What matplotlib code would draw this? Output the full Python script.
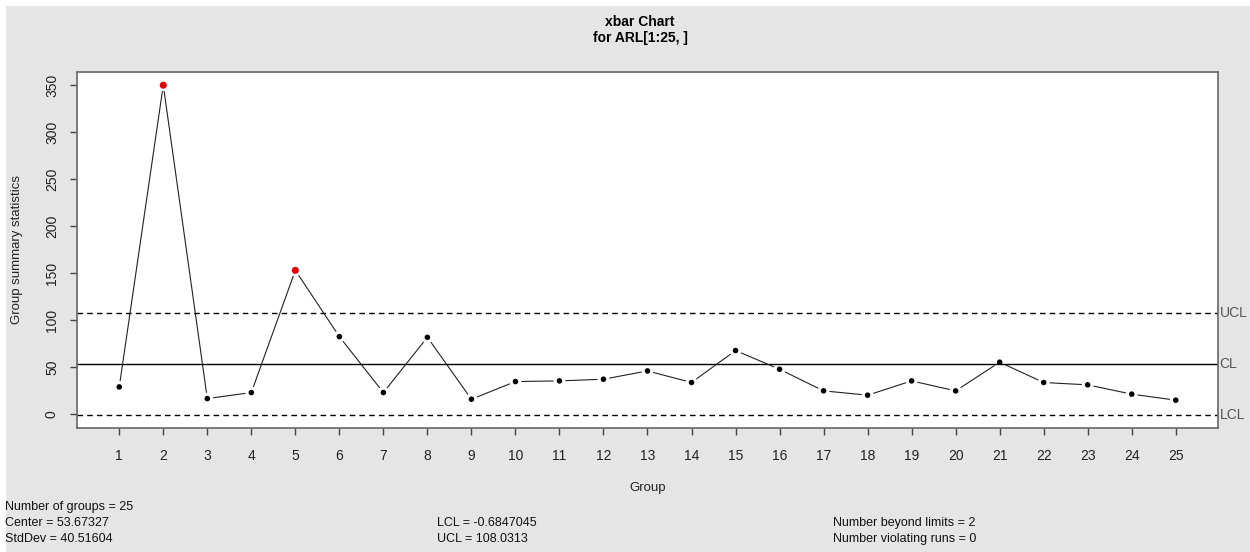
import numpy as np
import matplotlib
matplotlib.use('Agg')
import matplotlib.pyplot as plt
from matplotlib.patches import Rectangle

# group means for ARL[1:25, ]
groups = list(range(1, 26))
stats = [29.0, 350.0, 16.6, 23.0, 153.0, 82.5, 23.0, 81.8, 15.9, 34.7,
         35.4, 37.2, 46.0, 33.7, 67.7, 47.8, 24.8, 20.2, 35.4, 24.8,
         55.3, 33.7, 31.2, 21.3, 14.9]
center = 53.67327
lcl = -0.6847045
ucl = 108.0313
std_dev = 40.51604
beyond = [2, 5]  # groups outside the limits
violating_runs = 0

W, H = 1250, 552
plt.rcParams['font.family'] = ['Liberation Sans', 'DejaVu Sans']

fig = plt.figure(figsize=(W / 100.0, H / 100.0), dpi=100, facecolor='white')
# grey margin (thin white strip on top and left)
fig.patches.append(Rectangle((6.0 / W, 0), 1, 1 - 6.0 / H, transform=fig.transFigure,
                             facecolor='#e5e5e5', edgecolor='none', zorder=-10))

ax = fig.add_axes([77.0 / W, 1 - 428.0 / H, (1218.0 - 77) / W, (428.0 - 72) / H])
ax.set_facecolor('white')

# limits like R's default 4% extension
ymin = min(min(stats), lcl)
ymax = max(max(stats), ucl)
yr = ymax - ymin
ax.set_xlim(1 - 0.04 * 24, 25 + 0.04 * 24)
ax.set_ylim(ymin - 0.04 * yr, ymax + 0.04 * yr)

ax.axhline(center, color='black', lw=1.0)
ax.axhline(ucl, color='black', lw=1.0, ls=(0, (4, 3)))
ax.axhline(lcl, color='black', lw=1.0, ls=(0, (4, 3)))

# type "b" style: segments with gaps around the points
for i in range(len(groups) - 1):
    ax.annotate('', xy=(groups[i + 1], stats[i + 1]), xytext=(groups[i], stats[i]),
                arrowprops=dict(arrowstyle='-', color='#222222', lw=0.8,
                                shrinkA=4.5, shrinkB=4.5))

cols = ['#e00000' if g in beyond else 'black' for g in groups]
sizes = [26 if g in beyond else 16 for g in groups]
ax.scatter(groups, stats, c=cols, s=sizes, zorder=5, linewidths=0)

for s in ax.spines.values():
    s.set_color('#666666')
    s.set_linewidth(1.2)

ax.set_xticks(groups)
ax.set_yticks(np.arange(0, 351, 50))
ax.tick_params(axis='both', direction='out', length=5, width=1, color='#444444',
               labelsize=10, labelcolor='#222222')
ax.tick_params(axis='x', pad=10)
ax.tick_params(axis='y', pad=8)
for lab in ax.get_yticklabels():
    lab.set_rotation(90)
    lab.set_va('center')

ax.set_xlabel('Group', fontsize=9.5, color='#222222', labelpad=14)
ax.set_ylabel('Group summary statistics', fontsize=9.5, color='#222222', labelpad=16)

# labels for control lines at the right
for val, name in [(ucl, 'UCL'), (center, 'CL'), (lcl, 'LCL')]:
    ax.text(1.0015, val, name, transform=ax.get_yaxis_transform(), ha='left', va='center',
            fontsize=10, color='#555555')

fig.text(640.0 / W, 1 - 22.0 / H, 'xbar Chart', ha='center', va='center',
         fontsize=10, fontweight='bold')
fig.text(640.0 / W, 1 - 38.0 / H, 'for ARL[1:25, ]', ha='center', va='center',
         fontsize=10, fontweight='bold')

# summary at the bottom
def put(x, y, s):
    fig.text(x / W, 1 - y / H, s, ha='left', va='center', fontsize=9, color='#111111')

put(5, 507, 'Number of groups = %d' % len(groups))
put(5, 523, 'Center = %s' % center)
put(5, 539, 'StdDev = %s' % std_dev)
put(437, 523, 'LCL = %s' % lcl)
put(437, 539, 'UCL = %s' % ucl)
put(833, 523, 'Number beyond limits = %d' % len(beyond))
put(833, 539, 'Number violating runs = %d' % violating_runs)

fig.savefig('out.png', dpi=100, facecolor=fig.get_facecolor())
